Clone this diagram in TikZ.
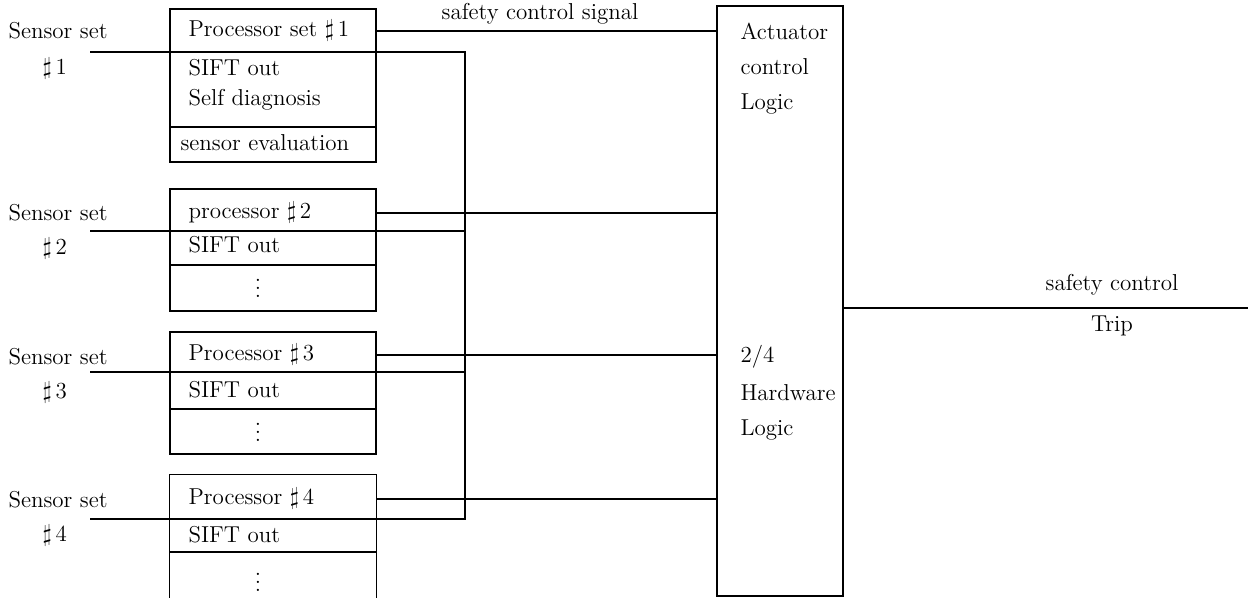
\documentclass[tikz,border=0pt]{standalone}
\usetikzlibrary{calc}
\newcommand{\shp}[1]{$\sharp$\,#1}
\begin{document}
\begin{tikzpicture}[x=0.5pt,y=-0.5pt,line width=0.55pt,
  every node/.style={font=\fontsize{11.5}{13}\selectfont},
  txt/.style={inner sep=0pt,anchor=west},
  ctxt/.style={inner sep=0pt},
  procbox/.style={draw,minimum width=103pt,inner sep=0pt},
  actbox/.style={draw,minimum width=63pt,minimum height=295pt,inner sep=0pt},
  wire/.style={line width=0.55pt}]
\useasboundingbox (0,0) rectangle (1248,598);

% processor boxes
\node[procbox,minimum height=76.5pt] (p1) at (273,85.5) {};
\node[procbox,minimum height=61pt] (p2) at (273,250) {};
\node[procbox,minimum height=61pt] (p3) at (273,393) {};
\node[procbox,draw=none,minimum height=64pt] (p4) at (273,539) {};
\draw (p4.south west) -- (p4.north west) -- (p4.north east) -- (p4.south east);

% actuator
\node[actbox] (act) at (780,301) {};

% box dividers
\draw (p1.west |- 0,127) -- (p1.east |- 0,127);
\draw (p2.west |- 0,265) -- (p2.east |- 0,265);
\draw (p3.west |- 0,409) -- (p3.east |- 0,409);
\draw (p4.west |- 0,552) -- (p4.east |- 0,552);

% texts in processor boxes
\node[txt] (h1) at (188,31) {Processor set \shp{1}};
\node[txt] at (188,68) {SIFT out};
\node[txt] at (188,100) {Self diagnosis};
\node[txt] at (180,143) {sensor evaluation};

\node[txt] (h2) at (188,213) {processor \shp{2}};
\node[txt] at (188,245) {SIFT out};
\node[ctxt] at (258,282) {$\vdots$};

\node[txt] (h3) at (188,355) {Processor \shp{3}};
\node[txt] at (188,390) {SIFT out};
\node[ctxt] at (258,426) {$\vdots$};

\node[txt] (h4) at (188,499) {Processor \shp{4}};
\node[txt] at (188,535) {SIFT out};
\node[ctxt] at (258,576) {$\vdots$};

% sensor labels
\node[txt] at (8,31) {Sensor set};
\node[txt] at (42,69) {\shp{1}};
\node[txt] at (8,213) {Sensor set};
\node[txt] at (42,249) {\shp{2}};
\node[txt] at (8,357) {Sensor set};
\node[txt] at (42,393) {\shp{3}};
\node[txt] at (8,500) {Sensor set};
\node[txt] at (42,536) {\shp{4}};

% actuator texts
\node[txt] at (740,31) {Actuator};
\node[txt] at (740,67) {control};
\node[txt] at (740,104) {Logic};
\node[txt] at (740,357) {2/4};
\node[txt] at (740,393) {Hardware};
\node[txt] at (740,430) {Logic};

% sensor lines and SIFT bus
\coordinate (s1) at (90,52);
\coordinate (s2) at (90,231);
\coordinate (s3) at (90,372);
\coordinate (s4) at (90,519);
\coordinate (b1) at (465,52);
\coordinate (b2) at (465,231);
\coordinate (b3) at (465,372);
\coordinate (b4) at (465,519);
\draw[wire] (s1) -- (b1) -- (b4) -- (s4);
\draw[wire] (s2) -- (b2);
\draw[wire] (s3) -- (b3);

% outputs to actuator
\draw[wire] (p1.east |- h1) -- (act.west |- h1);
\draw[wire] (p2.east |- h2) -- (act.west |- h2);
\draw[wire] (p3.east |- h3) -- (act.west |- h3);
\draw[wire] (p4.east |- h4) -- (act.west |- h4);
\node[ctxt] at (540,14) {safety control signal};

% trip output
\coordinate (tr) at (1248,308);
\draw[wire] (act.east |- tr) -- (tr);
\node[ctxt] at (1112,285) {safety control};
\node[ctxt] at (1112,326) {Trip};
\end{tikzpicture}
\end{document}
